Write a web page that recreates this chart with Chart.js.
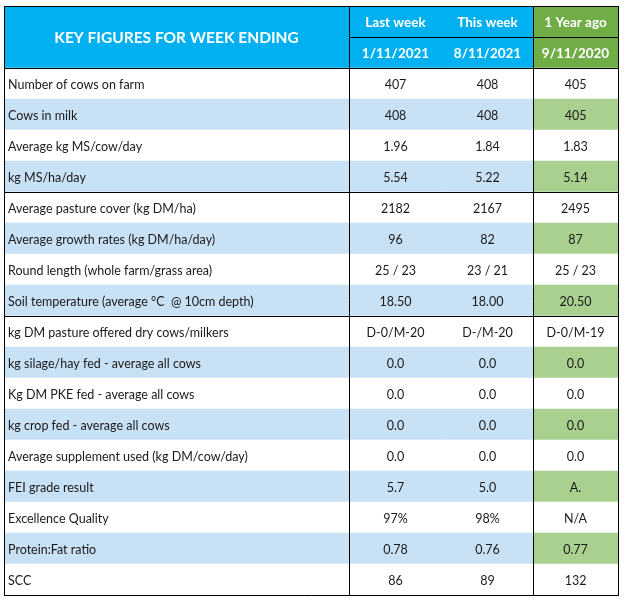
<!DOCTYPE html>
<html>
<head>
<meta charset="utf-8">
<script src="https://cdn.jsdelivr.net/npm/chart.js@4"></script>
<style>
  body { margin: 0; background: #fff; }
  canvas { display: block; }
</style>
</head>
<body>
<canvas id="tableCanvas" width="624" height="600"></canvas>
<script>
// table contents
const title = 'KEY FIGURES FOR WEEK ENDING'
const columnNames = ['Last week', 'This week', '1 Year ago']
const columnDates = ['1/11/2021', '8/11/2021', '9/11/2020']

const rowLabels = [
    'Number of cows on farm',
    'Cows in milk',
    'Average kg MS/cow/day',
    'kg MS/ha/day',
    'Average pasture cover (kg DM/ha)',
    'Average growth rates (kg DM/ha/day)',
    'Round length (whole farm/grass area)',
    'Soil temperature (average \u00B0C  @ 10cm depth)',
    'kg DM pasture offered dry cows/milkers',
    'kg silage/hay fed - average all cows',
    'Kg DM PKE fed - average all cows',
    'kg crop fed - average all cows',
    'Average supplement used (kg DM/cow/day)',
    'FEI grade result',
    'Excellence Quality',
    'Protein:Fat ratio',
    'SCC'
]
const lastWeek = ['407', '408', '1.96', '5.54', '2182', '96', '25 / 23', '18.50', 'D-0/M-20', '0.0', '0.0', '0.0', '0.0', '5.7', '97%', '0.78', '86']
const thisWeek = ['408', '408', '1.84', '5.22', '2167', '82', '23 / 21', '18.00', 'D-/M-20', '0.0', '0.0', '0.0', '0.0', '5.0', '98%', '0.76', '89']
const yearAgo = ['405', '405', '1.83', '5.14', '2495', '87', '25 / 23', '20.50', 'D-0/M-19', '0.0', '0.0', '0.0', '0.0', 'A.', 'N/A', '0.77', '132']

// layout: column edges in table units, group breaks after these rows
const colEdges = [0, 345, 438, 529, 614]
const groupBreaks = [4, 8]

const BLUE = '#00B0F0', GREEN = '#70AD47'
const LIGHT_BLUE = '#C8E1F5', LIGHT_GREEN = '#A9D08E'
const FONT = 'Lato'

const valueCols = [lastWeek, thisWeek, yearAgo]
const yLabels = ['head1', 'head2', ...rowLabels]

function cellColor(col, i) {
    if (i < 2) return col === 3 ? GREEN : BLUE
    let odd = (i - 2) % 2 === 1
    if (!odd) return '#ffffff'
    return col === 3 ? LIGHT_GREEN : LIGHT_BLUE
}

const datasets = colEdges.slice(0, -1).map((edge, c) => ({
    label: 'col' + c,
    data: yLabels.map(lab => ({ x: [edge, colEdges[c + 1]], y: lab })),
    backgroundColor: ctx => cellColor(c, ctx.dataIndex),
    borderWidth: 0,
    borderSkipped: false,
    grouped: false,
    barPercentage: 1,
    categoryPercentage: 1
}))

const tablePlugin = {
    id: 'tableText',
    afterDatasetsDraw(chart) {
        const { ctx, scales: { x, y } } = chart
        const rowTop = i => (y.getPixelForValue(i) + y.getPixelForValue(i - 1)) / 2
        const rowH = y.getPixelForValue(1) - y.getPixelForValue(0)
        const top = y.getPixelForValue(0) - rowH / 2
        const bottom = y.getPixelForValue(yLabels.length - 1) + rowH / 2
        const left = x.getPixelForValue(colEdges[0])
        const right = x.getPixelForValue(colEdges[colEdges.length - 1])
        const colMid = c => (x.getPixelForValue(colEdges[c]) + x.getPixelForValue(colEdges[c + 1])) / 2

        ctx.save()
        // lines
        ctx.strokeStyle = '#000'
        ctx.lineWidth = 1
        const hline = (yy, x0, x1) => { ctx.beginPath(); ctx.moveTo(x0, Math.round(yy) + 0.5); ctx.lineTo(x1, Math.round(yy) + 0.5); ctx.stroke() }
        const vline = (xx, y0, y1) => { ctx.beginPath(); ctx.moveTo(Math.round(xx) + 0.5, y0); ctx.lineTo(Math.round(xx) + 0.5, y1); ctx.stroke() }
        hline(top, left, right + 1)
        hline(bottom, left, right + 1)
        hline(rowTop(1), x.getPixelForValue(colEdges[1]), right)
        hline(rowTop(2), left, right)
        groupBreaks.forEach(b => hline(rowTop(b + 2), left, right))
        vline(left, top, bottom)
        vline(right, top, bottom)
        vline(x.getPixelForValue(colEdges[1]), top, bottom)
        vline(x.getPixelForValue(colEdges[3]), top, bottom)

        // header text
        ctx.fillStyle = '#fff'
        ctx.textAlign = 'center'
        ctx.textBaseline = 'middle'
        ctx.font = 'bold 15.5px ' + FONT
        ctx.fillText(title, colMid(0), rowTop(1) + 1)
        ctx.font = 'bold 13.5px ' + FONT
        columnNames.forEach((n, c) => ctx.fillText(n, colMid(c + 1), y.getPixelForValue(0) + 1))
        columnDates.forEach((d, c) => ctx.fillText(d, colMid(c + 1), y.getPixelForValue(1) + 1))

        // body text
        ctx.fillStyle = '#1a1a1a'
        ctx.font = '12.5px ' + FONT
        rowLabels.forEach((lab, i) => {
            let yy = y.getPixelForValue(i + 2) + 1
            ctx.textAlign = 'left'
            ctx.fillText(lab, left + 4, yy)
            ctx.textAlign = 'center'
            valueCols.forEach((vals, c) => ctx.fillText(vals[i], colMid(c + 1), yy))
        })
        ctx.restore()
    }
}

new Chart(document.getElementById('tableCanvas'), {
    type: 'bar',
    data: { labels: yLabels, datasets: datasets },
    options: {
        indexAxis: 'y',
        responsive: false,
        animation: false,
        devicePixelRatio: 1,
        layout: { padding: { left: 4, right: 6, top: 6, bottom: 5 } },
        plugins: { legend: { display: false }, tooltip: { enabled: false } },
        scales: {
            x: { type: 'linear', min: colEdges[0], max: colEdges[colEdges.length - 1], display: false },
            y: { type: 'category', display: false, offset: true }
        }
    },
    plugins: [tablePlugin]
})
</script>
</body>
</html>
